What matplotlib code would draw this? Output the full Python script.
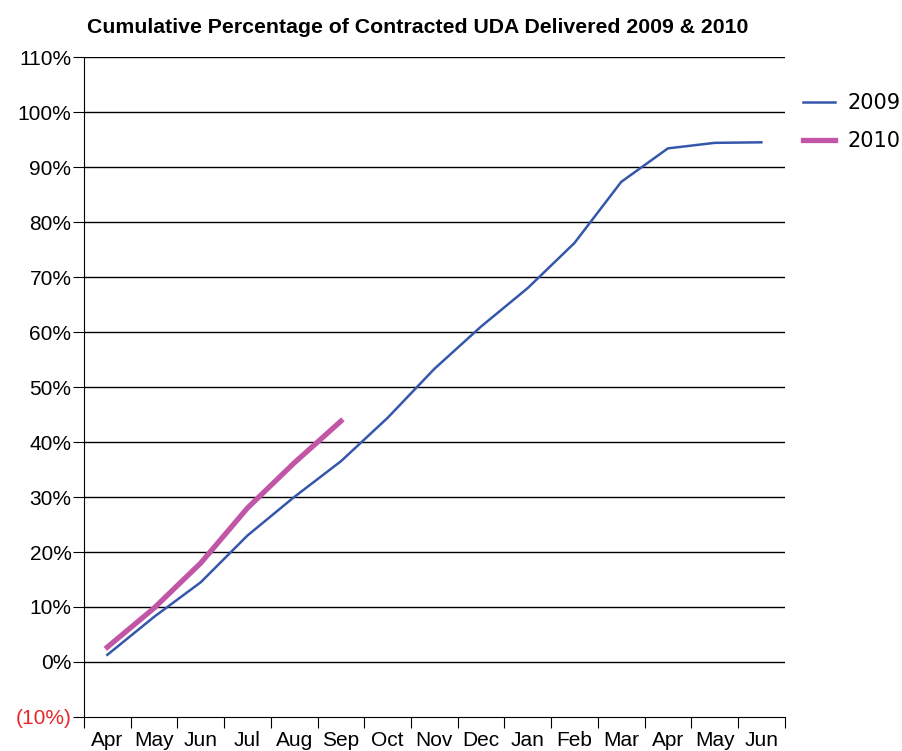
import numpy as np
import matplotlib.pyplot as plt
from matplotlib.ticker import FuncFormatter

months = ["Apr", "May", "Jun", "Jul", "Aug", "Sep", "Oct", "Nov",
          "Dec", "Jan", "Feb", "Mar", "Apr", "May", "Jun"]
uda_2009 = [1.3, 8.2, 14.5, 23.0, 30.0, 36.5, 44.4, 53.3, 61.0, 68.0,
            76.2, 87.3, 93.4, 94.4, 94.5]
uda_2010 = [2.7, 9.8, 18.0, 28.0, 36.2, 43.8]

plt.rcParams['font.family'] = ['Liberation Sans', 'DejaVu Sans']

fig = plt.figure(figsize=(9.03, 7.51), dpi=100)
ax = fig.add_axes([0.093, 0.0453, 0.776, 0.8787])

x = np.arange(len(months))
ax.plot(x, uda_2009, color="#3557AB", lw=1.8, label="2009")
ax.plot(np.arange(len(uda_2010)), uda_2010, color="#C155A6", lw=3.8, label="2010")

ax.set_xlim(-0.5, len(months) - 0.5)
ax.set_ylim(-10, 110)

# horizontal grid lines
yt = np.arange(-10, 111, 10)
ax.set_yticks(yt)
for v in yt[1:]:
    ax.axhline(v, color="black", lw=1, zorder=0)

def pct(v, pos):
    return "(%d%%)" % abs(v) if v < 0 else "%d%%" % v
ax.yaxis.set_major_formatter(FuncFormatter(pct))
ax.tick_params(axis="y", labelsize=15, length=8, pad=1)
ax.get_yticklabels()[0].set_color("#E8262A")

# x ticks at boundaries, labels at category centres
ax.set_xticks(np.arange(-0.5, len(months), 1))
ax.set_xticklabels([])
ax.tick_params(axis="x", which="major", length=8)
ax.set_xticks(x, minor=True)
ax.set_xticklabels(months, minor=True)
ax.tick_params(axis="x", which="minor", length=0, labelsize=15, pad=10)

for s in ["top", "right"]:
    ax.spines[s].set_visible(False)

ax.set_title("Cumulative Percentage of Contracted UDA Delivered 2009 & 2010",
             fontsize=15.3, fontweight="bold", pad=17, x=0.476)

ax.legend(loc="upper left", bbox_to_anchor=(1.0257, 0.945), frameon=False,
          prop={"family": "DejaVu Sans", "size": 15}, handlelength=1.55,
          handletextpad=0.6, labelspacing=0.85, borderpad=0, borderaxespad=0)

fig.savefig("out.png", dpi=100)
